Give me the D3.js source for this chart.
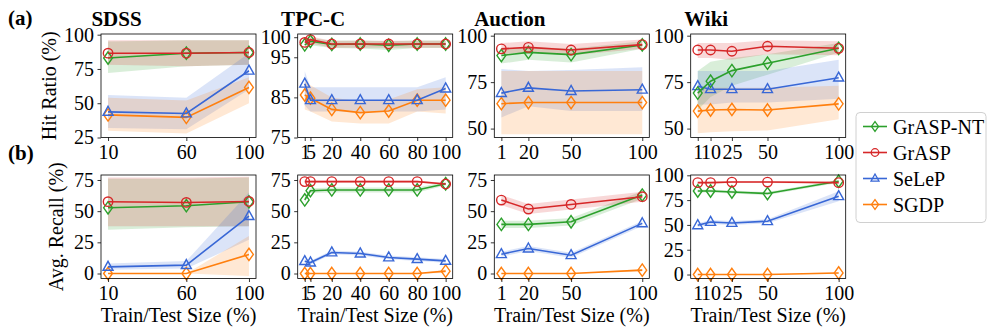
<!DOCTYPE html>
<html>
<head>
<meta charset="utf-8">
<script src="https://cdn.jsdelivr.net/npm/d3@7"></script>
<style>
  body { margin: 0; background: #fff; }
  svg text { font-family: 'Liberation Serif', 'DejaVu Serif', 'Times New Roman', serif !important; fill: #000; }
</style>
</head>
<body>
<svg id="chart" width="996" height="335"></svg>
<script>
// series order matches the legend
const methods = ["GrASP-NT", "GrASP", "SeLeP", "SGDP"];
const datasets = ["SDSS", "TPC-C", "Auction", "Wiki"];

// train/test sizes (%) per dataset
const sdssX = [10, 60, 100];
const tpccX = [1, 5, 20, 40, 60, 80, 100];
const auctionX = [1, 20, 50, 100];
const wikiX = [1, 10, 25, 50, 100];

// hit ratio (%) — mean, lower band, upper band
const sdssHit = { "GrASP-NT": [83, 86.5, 87], "GrASP": [86.5, 86.5, 87], "SeLeP": [43.7, 42.5, 73.7], "SGDP": [41.5, 39.7, 61.5] };
const sdssHitLo = { "GrASP-NT": [72, 77, 78], "GrASP": [78, 77, 78], "SeLeP": [32, 31, 60], "SGDP": [30, 28, 50] };
const sdssHitHi = { "GrASP-NT": [95, 96, 96], "GrASP": [96, 96, 96], "SeLeP": [56, 54, 86.5], "SGDP": [54, 52, 69] };

const tpccHit = { "GrASP-NT": [98.1, 99, 98.2, 98.3, 98, 98.3, 98.3], "GrASP": [98.7, 99.4, 98.3, 98.3, 98.3, 98.3, 98.3], "SeLeP": [88.4, 84.3, 84.3, 84.3, 84.3, 84.3, 87.2], "SGDP": [85.6, 84.8, 82, 81.2, 81.6, 84.3, 84.3] };
const tpccHitLo = { "GrASP-NT": [97.2, 98, 97.3, 97.2, 96.8, 97.3, 97.3], "GrASP": [97.8, 98.5, 97.4, 97.4, 97.4, 97.4, 97.4], "SeLeP": [83, 81.5, 81.5, 81.5, 81.5, 81.5, 82], "SGDP": [82, 81.5, 79, 78.5, 78.5, 81.5, 81] };
const tpccHitHi = { "GrASP-NT": [99, 99.8, 99.1, 99.2, 99, 99.2, 99.2], "GrASP": [99.5, 100.2, 99.1, 99.1, 99.1, 99.1, 99.1], "SeLeP": [91.5, 87.5, 87.5, 87.5, 87.5, 87.5, 90], "SGDP": [89, 88, 85, 84, 84.5, 87, 87.5] };

const auctionHit = { "GrASP-NT": [89.3, 91, 89.8, 95], "GrASP": [92.9, 93.7, 92.3, 95.2], "SeLeP": [69.1, 71.9, 70.2, 70.9], "SGDP": [63.4, 64, 64, 64] };
const auctionHitLo = { "GrASP-NT": [85, 87, 85.5, 93], "GrASP": [90, 91, 89.5, 93], "SeLeP": [56, 62, 59.5, 59.5], "SGDP": [47, 47, 47, 47] };
const auctionHitHi = { "GrASP-NT": [93, 94, 93, 97], "GrASP": [96, 97, 95.5, 98], "SeLeP": [82, 81, 81.5, 83], "SGDP": [81, 81, 81, 81] };

const wikiHit = { "GrASP-NT": [69.1, 75.5, 81.2, 85.2, 93.2], "GrASP": [92.3, 92.3, 91.6, 94.3, 93.2], "SeLeP": [72.8, 71.2, 71.2, 71.2, 77.4], "SGDP": [59.4, 60, 60.3, 60, 63.3] };
const wikiHitLo = { "GrASP-NT": [60, 67, 73, 79, 91], "GrASP": [88, 88, 87, 90, 89.5], "SeLeP": [63, 63, 64, 64, 66], "SGDP": [47.5, 48, 48.5, 49, 55] };
const wikiHitHi = { "GrASP-NT": [81, 86, 88, 90, 96], "GrASP": [96, 96, 96, 97.5, 97], "SeLeP": [81, 81, 81, 81, 87], "SGDP": [72, 72, 72, 72, 73] };

// avg. recall (%) — mean, lower band, upper band
const sdssRec = { "GrASP-NT": [52.7, 54.4, 57.5], "GrASP": [57.6, 57, 57.8], "SeLeP": [5.3, 6.7, 46], "SGDP": [0, 0, 15.3] };
const sdssRecLo = { "GrASP-NT": [35, 37, 38], "GrASP": [38, 38, 38], "SeLeP": [3, 4, 27], "SGDP": [0, 0, -2] };
const sdssRecHi = { "GrASP-NT": [76, 76, 77], "GrASP": [77, 77, 77.5], "SeLeP": [8, 10, 65], "SGDP": [0, 0, 30] };

const tpccRec = { "GrASP-NT": [59, 66.4, 67, 67, 67, 67, 72], "GrASP": [73.7, 73.7, 73.7, 73.7, 73.7, 73.7, 71.8], "SeLeP": [9.9, 8.8, 16.9, 16, 12.9, 11.5, 10.1], "SGDP": [0, 0, 0, 0, 0, 0, 1.9] };
const tpccRecLo = { "GrASP-NT": [57, 64.5, 65, 65, 65, 65, 70.5], "GrASP": [72.9, 72.9, 72.9, 72.9, 72.9, 72.9, 71], "SeLeP": [8.4, 7.3, 15.4, 14.5, 11.4, 10, 8.6], "SGDP": [0, 0, 0, 0, 0, 0, 0.5] };
const tpccRecHi = { "GrASP-NT": [61, 68.4, 69, 69, 69, 69, 73.5], "GrASP": [74.5, 74.5, 74.5, 74.5, 74.5, 74.5, 72.6], "SeLeP": [11.4, 10.3, 18.4, 17.5, 14.4, 13, 11.6], "SGDP": [0, 0, 0, 0, 0, 0, 3.3] };

const auctionRec = { "GrASP-NT": [39.4, 39.4, 41.5, 62.9], "GrASP": [58.9, 51.7, 55.4, 61.6], "SeLeP": [15.5, 20, 14.7, 40.2], "SGDP": [0, 0, 0, 2.7] };
const auctionRecLo = { "GrASP-NT": [36.4, 36.4, 38.5, 59.9], "GrASP": [54.9, 47.7, 51.4, 57.6], "SeLeP": [13.5, 18, 12.7, 38.2], "SGDP": [0, 0, 0, 1.7] };
const auctionRecHi = { "GrASP-NT": [42.4, 42.4, 44.5, 65.9], "GrASP": [62.9, 55.7, 59.4, 65.6], "SeLeP": [17.5, 22, 16.7, 42.2], "SGDP": [0, 0, 0, 3.7] };

const wikiRec = { "GrASP-NT": [84.2, 84.2, 83.2, 81.6, 94], "GrASP": [92.6, 92.6, 93.2, 93.2, 92.6], "SeLeP": [49.6, 53, 52, 53.7, 78.9], "SGDP": [0, 0, 0, 0, 1.6] };
const wikiRecLo = { "GrASP-NT": [82.7, 82.7, 81.7, 80.1, 92.5], "GrASP": [91.6, 91.6, 92.2, 92.2, 91.6], "SeLeP": [47.6, 51, 50, 51.7, 73.9], "SGDP": [0, 0, 0, 0, 0.6] };
const wikiRecHi = { "GrASP-NT": [85.7, 85.7, 84.7, 83.1, 95.5], "GrASP": [93.6, 93.6, 94.2, 94.2, 93.6], "SeLeP": [51.6, 55, 54, 55.7, 83.9], "SGDP": [0, 0, 0, 0, 2.6] };

// axis ranges and ticks
const hitYDomains = [[25, 100.5], [75, 100.8], [45.2, 100.9], [45.2, 100.9]];
const hitYTicks = [[25, 50, 75, 100], [75, 85, 95, 100], [50, 75, 100], [50, 75, 100]];
const recYDomains = [[-4, 79], [-4, 79], [-4, 79], [-4, 100.3]];
const recYTicks = [[0, 25, 50, 75], [0, 25, 50, 75], [0, 25, 50, 75], [0, 25, 50, 75, 100]];

const colors = { "GrASP-NT": "#2ca02c", "GrASP": "#d62728", "SeLeP": "#3867d6", "SGDP": "#ff7f0e" };
const markers = { "GrASP-NT": "diamond", "GrASP": "circle", "SeLeP": "triangle", "SGDP": "diamond" };

const xs = [sdssX, tpccX, auctionX, wikiX];
const rows = [
    { label: "Hit Ratio (%)", tag: "(a)", mean: [sdssHit, tpccHit, auctionHit, wikiHit], lo: [sdssHitLo, tpccHitLo, auctionHitLo, wikiHitLo], hi: [sdssHitHi, tpccHitHi, auctionHitHi, wikiHitHi], yDom: hitYDomains, yTicks: hitYTicks },
    { label: "Avg. Recall (%)", tag: "(b)", mean: [sdssRec, tpccRec, auctionRec, wikiRec], lo: [sdssRecLo, tpccRecLo, auctionRecLo, wikiRecLo], hi: [sdssRecHi, tpccRecHi, auctionRecHi, wikiRecHi], yDom: recYDomains, yTicks: recYTicks }
];

// layout (pixels)
const colLeft = [101, 297.7, 494.3, 690.7];
const panelW = 155;
const rowTop = [34, 175];
const panelH = 103.5;
const serif = "'Liberation Serif', 'DejaVu Serif', 'Times New Roman', serif";

const svg = d3.select("#chart");

function markerPath(type) {
    if (type === "circle") return d3.symbol(d3.symbolCircle, 70)();
    if (type === "triangle") return "M0,-5.6L5,3.4L-5,3.4Z";
    return "M0,-6.2L4.4,0L0,6.2L-4.4,0Z";
}

rows.forEach((row, r) => {
    datasets.forEach((ds, c) => {
        const left = colLeft[c], top = rowTop[r];
        const xv = xs[c];
        const ext = d3.extent(xv);
        const pad = (ext[1] - ext[0]) * 0.05;
        const x = d3.scaleLinear().domain([ext[0] - pad, ext[1] + pad]).range([0, panelW]);
        const y = d3.scaleLinear().domain(row.yDom[c]).range([panelH, 0]);

        const g = svg.append("g").attr("transform", `translate(${left},${top})`);
        const clipId = `clip-${r}-${c}`;
        g.append("clipPath").attr("id", clipId).append("rect").attr("width", panelW).attr("height", panelH);
        const plot = g.append("g").attr("clip-path", `url(#${clipId})`);

        // shaded bands first
        methods.forEach(m => {
            const pts = xv.map((v, i) => ({ x: v, lo: row.lo[c][m][i], hi: row.hi[c][m][i] }));
            const area = d3.area().x(d => x(d.x)).y0(d => y(d.lo)).y1(d => y(d.hi));
            plot.append("path").attr("d", area(pts)).attr("fill", colors[m]).attr("fill-opacity", 0.18).attr("stroke", "none");
        });

        // lines and markers
        ["SGDP", "SeLeP", "GrASP-NT", "GrASP"].forEach(m => {
            const pts = xv.map((v, i) => ({ x: v, y: row.mean[c][m][i] }));
            const line = d3.line().x(d => x(d.x)).y(d => y(d.y));
            g.append("path").attr("d", line(pts)).attr("fill", "none").attr("stroke", colors[m]).attr("stroke-width", 1.6);
            g.selectAll(null).data(pts).join("path")
                .attr("transform", d => `translate(${x(d.x)},${y(d.y)})`)
                .attr("d", markerPath(markers[m]))
                .attr("fill", "none").attr("stroke", colors[m]).attr("stroke-width", 1.4);
        });

        // axes
        const yAxis = d3.axisLeft(y).tickValues(row.yTicks[c]).tickSize(3.5).tickPadding(3.5).tickSizeOuter(0).tickFormat(d3.format("d"));
        const xAxis = d3.axisBottom(x).tickValues(xv).tickSize(3.5).tickPadding(3.5).tickSizeOuter(0).tickFormat(d3.format("d"));
        const ya = g.append("g").call(yAxis);
        const xa = g.append("g").attr("transform", `translate(0,${panelH})`).call(xAxis);
        [ya, xa].forEach(a => {
            a.attr("font-family", serif).attr("font-size", 20);
            a.select(".domain").remove();
            a.selectAll("line").attr("stroke", "#000").attr("stroke-width", 0.8);
            a.selectAll("text").style("font-family", serif).style("font-size", "20px").attr("fill", "#000");
        });
        g.append("rect").attr("width", panelW).attr("height", panelH).attr("fill", "none").attr("stroke", "#000").attr("stroke-width", 0.8);

        if (r === 0) {
            g.append("text").attr("x", panelW * 0.1).attr("y", -8).attr("text-anchor", "middle")
                .style("font-family", serif).style("font-size", "21px").style("font-weight", "bold").text(ds);
        } else {
            g.append("text").attr("x", panelW / 2).attr("y", 147).attr("text-anchor", "middle")
                .style("font-family", serif).style("font-size", "20px").text("Train/Test Size (%)");
        }
    });

    // row label and tag
    const yc = rowTop[r] + panelH / 2;
    const lx = r === 0 ? 49 : 56;
    svg.append("text").attr("transform", `translate(${lx},${yc}) rotate(-90)`).attr("text-anchor", "middle")
        .attr("dominant-baseline", "central").style("font-family", serif).style("font-size", "20px").text(row.label);
    svg.append("text").attr("x", 8).attr("y", r === 0 ? 25 : 160)
        .style("font-family", serif).style("font-size", "21px").style("font-weight", "bold").text(row.tag);
});

// legend
const legend = svg.append("g").attr("transform", "translate(856,112.5)");
legend.append("rect").attr("width", 130).attr("height", 110).attr("rx", 4)
    .attr("fill", "#fff").attr("stroke", "#d0d0d0").attr("stroke-width", 1);
methods.forEach((m, i) => {
    const ly = 14 + i * 26;
    legend.append("line").attr("x1", 7).attr("x2", 31).attr("y1", ly).attr("y2", ly)
        .attr("stroke", colors[m]).attr("stroke-width", 1.6);
    legend.append("path").attr("transform", `translate(19,${ly}) scale(0.8)`).attr("d", markerPath(markers[m]))
        .attr("fill", "none").attr("stroke", colors[m]).attr("stroke-width", 1.6);
    legend.append("text").attr("x", 37).attr("y", ly).attr("dominant-baseline", "central")
        .style("font-family", serif).style("font-size", "20px").text(m);
});
</script>
</body>
</html>
